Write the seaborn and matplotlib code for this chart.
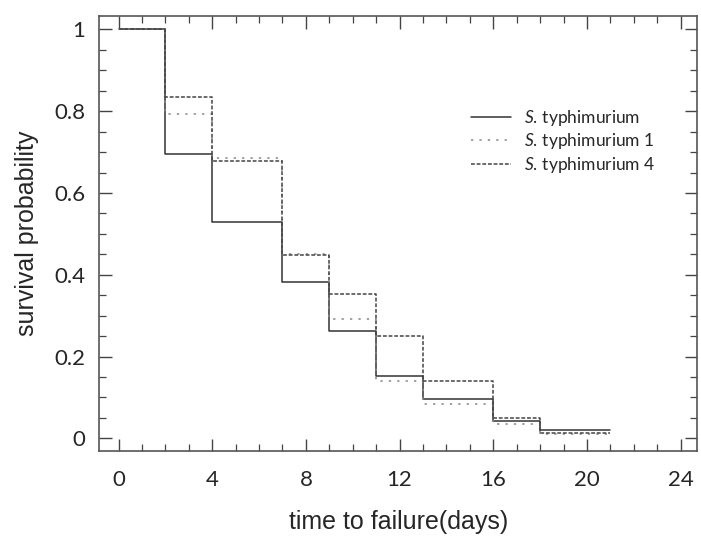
import matplotlib
matplotlib.use("Agg")
import matplotlib.pyplot as plt
import matplotlib.ticker as mtick
import pandas as pd
import seaborn as sns

# Step times (days) and survival levels
TIMES = [0, 2, 4, 7, 9, 11, 13, 16, 18, 21]
SURV_ST = [1.0, 0.695, 0.530, 0.383, 0.263, 0.153, 0.096, 0.043, 0.020, 0.020]
SURV_ST1 = [1.0, 0.793, 0.685, 0.452, 0.293, 0.141, 0.084, 0.035, 0.010, 0.010]
SURV_ST4 = [1.0, 0.836, 0.678, 0.449, 0.353, 0.250, 0.141, 0.049, 0.012, 0.012]

LABELS = [r"$\it{S.}\,$typhimurium", r"$\it{S.}\,$typhimurium 1", r"$\it{S.}\,$typhimurium 4"]
X_TICKS = [0, 4, 8, 12, 16, 20, 24]
Y_TICKS = [0, 0.2, 0.4, 0.6, 0.8, 1]
Y_TICK_LABELS = ["0", "0.2", "0.4", "0.6", "0.8", "1"]

sns.set_theme(style="ticks")
plt.rcParams["font.family"] = ["Liberation Sans", "DejaVu Sans"]
plt.rcParams["mathtext.fontset"] = "custom"
plt.rcParams["mathtext.it"] = "Lato:italic"
plt.rcParams["mathtext.rm"] = "Lato"

fig = plt.figure(figsize=(7.01, 5.40), dpi=100)
ax = fig.add_axes([0.1417, 0.1648, 0.8526, 0.8056])

series = [
    (SURV_ST, LABELS[0], "-", "#333333"),
    (SURV_ST1, LABELS[1], (0, (1.5, 4)), "#888888"),
    (SURV_ST4, LABELS[2], (0, (2.5, 1.2)), "#444444"),
]

for values, label, ls, color in series:
    df = pd.DataFrame({"time": TIMES, "surv": values})
    sns.lineplot(data=df, x="time", y="surv", ax=ax, drawstyle="steps-post",
                 estimator=None, sort=False, color=color, linestyle=ls,
                 linewidth=1.1, label=label)

ax.set_xlim(-0.82, 24.7)
ax.set_ylim(-0.031, 1.033)

ax.set_xticks(X_TICKS)
ax.xaxis.set_minor_locator(mtick.MultipleLocator(1))
ax.set_yticks(Y_TICKS)
ax.set_yticklabels(Y_TICK_LABELS)
ax.yaxis.set_minor_locator(mtick.MultipleLocator(0.05))

ax.tick_params(which="both", direction="in", top=True, right=True, color="#444444")
ax.tick_params(which="major", length=9, width=1)
ax.tick_params(which="minor", length=5, width=0.9)
ax.tick_params(axis="x", which="major", pad=14)
ax.tick_params(axis="y", which="major", pad=10)

for lab in ax.get_xticklabels() + ax.get_yticklabels():
    lab.set_fontfamily("Lato")
    lab.set_fontsize(16)

for spine in ax.spines.values():
    spine.set_color("#555555")
    spine.set_linewidth(1.2)

ax.set_xlabel("time to failure(days)", fontsize=18, labelpad=14)
ax.set_ylabel("survival probability", fontsize=18, labelpad=11)

leg = ax.legend(loc="upper left", bbox_to_anchor=(0.595, 0.825), frameon=False,
                fontsize=12.5, handlelength=2.3, handletextpad=0.8, labelspacing=0.2)
for text in leg.get_texts():
    text.set_fontfamily("Lato")

fig.savefig("out.png", dpi=100)
